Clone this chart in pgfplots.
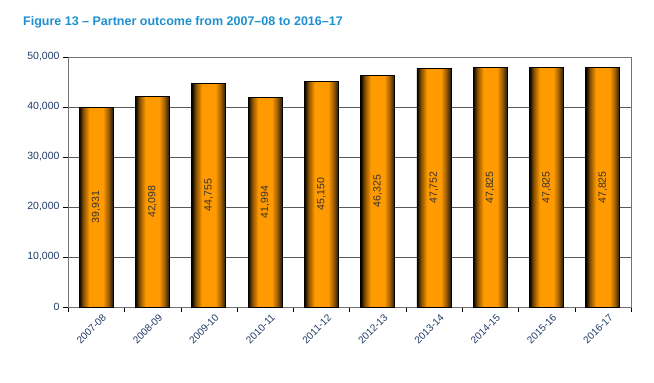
\documentclass[border=0pt]{standalone}
\usepackage{pgfplots}
\pgfplotsset{compat=1.18}
\usepackage{fontspec}
\setmainfont{Liberation Sans}
\definecolor{titleblue}{HTML}{1E90CF}
\definecolor{tickblue}{HTML}{1F3A66}
\definecolor{barorange}{HTML}{FF9A00}
\definecolor{barmid}{HTML}{E08400}
\pgfdeclarehorizontalshading{barshade}{100bp}{color(0bp)=(black); color(25bp)=(black); color(31bp)=(barmid!60!black); color(40bp)=(barorange); color(60bp)=(barorange); color(68bp)=(barmid!70!black); color(75bp)=(black!90); color(100bp)=(black!90)}
\pgfplotsset{
  mybar/.style={ybar, bar width=34pt, bar shift=0pt, draw=black, line width=0.8pt, shading=barshade,
    nodes near coords,
    point meta=y,
    visualization depends on={y \as \rawy},
    every node near coord/.style={shift={(axis direction cs:0,-\rawy/2)}, rotate=90, anchor=center, font=\fontsize{10.5}{12}\selectfont, text=black!80,
       /pgf/number format/1000 sep={,}, /pgf/number format/assume math mode=true},
  }
}
\begin{document}
\begin{tikzpicture}[x=1pt,y=1pt]
\begin{axis}[
  scale only axis,
  width=563pt, height=250pt,
  xmin=-0.5, xmax=9.5,
  ymin=0, ymax=50000,
  xtick={0,...,9},
  xticklabels={2007-08,2008-09,2009-10,2010-11,2011-12,2012-13,2013-14,2014-15,2015-16,2016-17},
  xticklabel style={rotate=45, anchor=north east, font=\fontsize{10}{12}\selectfont, text=tickblue, inner sep=1pt, xshift=4pt, yshift=-4pt},
  major x tick style={draw=none},
  minor xtick={-0.5,0.5,...,9.5},
  minor x tick style={black},
  minor tick length=5pt,
  ytick={0,10000,...,50000},
  yticklabel style={font=\fontsize{10.5}{12}\selectfont, text=tickblue, /pgf/number format/1000 sep={,}},
  scaled y ticks=false,
  /pgf/number format/assume math mode=true,
  tick align=outside,
  major tick length=5pt,
  xtick pos=bottom, ytick pos=left,
  ymajorgrids,
  major grid style={black!65, line width=0.8pt},
  axis line style={black!55},
  y tick style={black},
  clip=false,
]
\addplot[mybar] coordinates {(0,39931)};
\addplot[mybar] coordinates {(1,42098)};
\addplot[mybar] coordinates {(2,44755)};
\addplot[mybar] coordinates {(3,41994)};
\addplot[mybar] coordinates {(4,45150)};
\addplot[mybar] coordinates {(5,46325)};
\addplot[mybar] coordinates {(6,47752)};
\addplot[mybar] coordinates {(7,47825)};
\addplot[mybar] coordinates {(8,47825)};
\addplot[mybar] coordinates {(9,47825)};
\end{axis}
\path ([shift={(-68pt,-76pt)}]current axis.south west) rectangle ([shift={(23pt,57pt)}]current axis.north east);
\node[anchor=base west, font=\fontsize{12.5}{14}\selectfont\bfseries, text=titleblue, inner sep=0pt] at ([shift={(-45pt,31pt)}]current axis.north west) {Figure 13 – Partner outcome from 2007–08 to 2016–17};
\end{tikzpicture}
\end{document}
